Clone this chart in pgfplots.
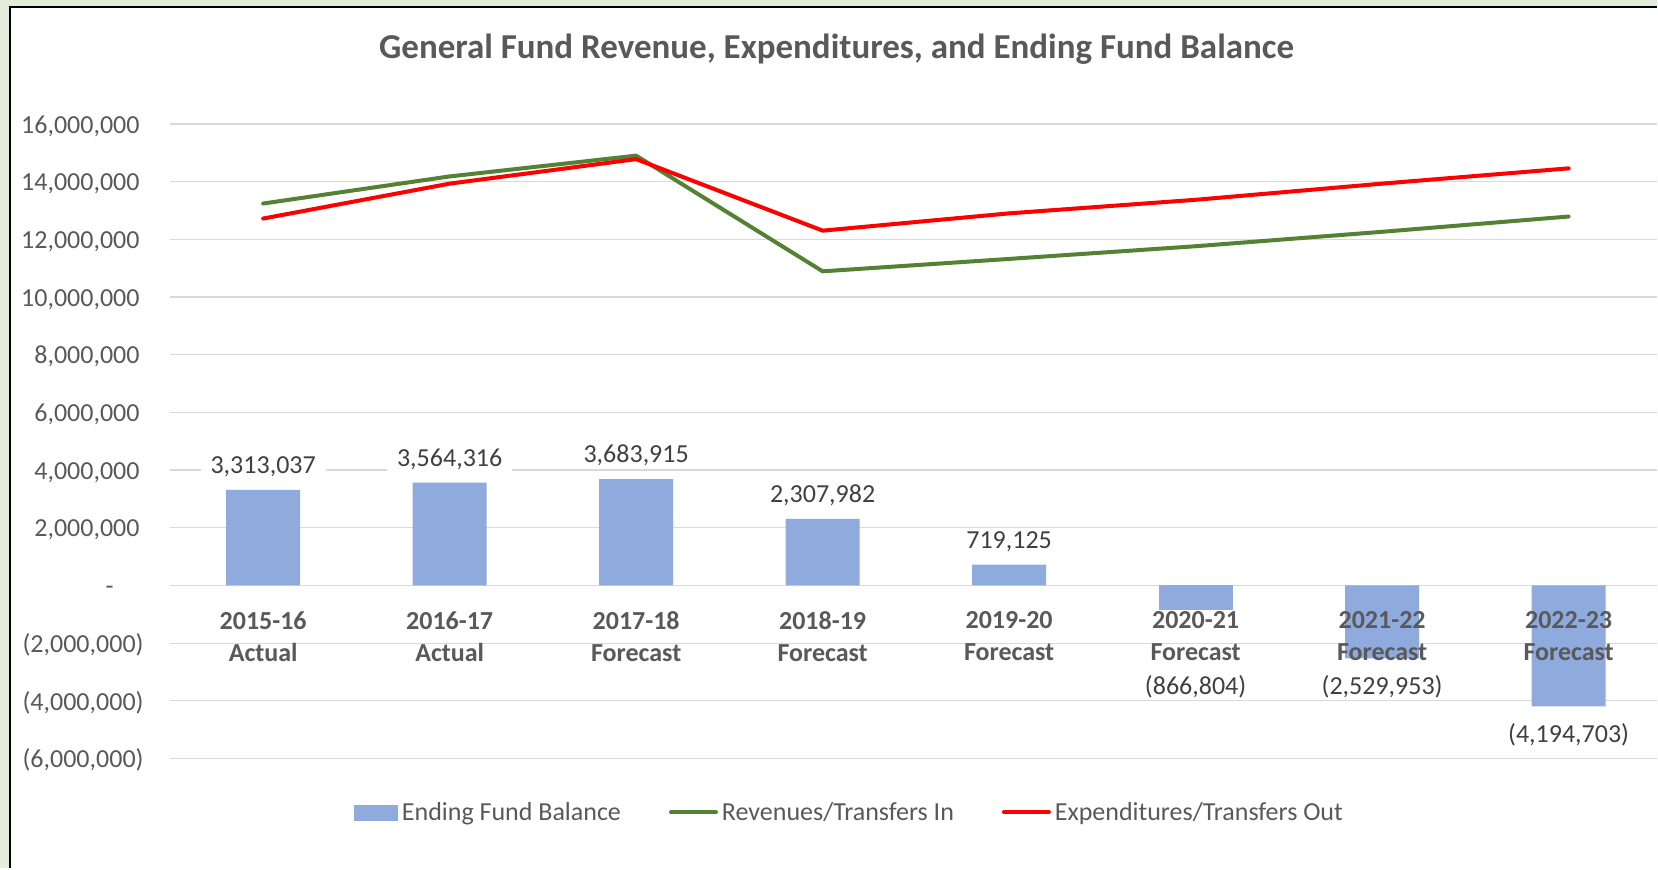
\documentclass[border=0pt]{standalone}
\usepackage{pgfplots}
\pgfplotsset{compat=1.18}
\usepackage{pgfplotstable}
\usepackage{fontspec}
\setmainfont{Carlito}
\definecolor{barblue}{RGB}{143,170,220}
\definecolor{revgreen}{RGB}{84,130,53}
\definecolor{expred}{RGB}{255,0,0}
\definecolor{gridgray}{RGB}{217,217,217}
\definecolor{txtgray}{RGB}{89,89,89}
\definecolor{lblgray}{RGB}{64,64,64}
\definecolor{bggreen}{RGB}{228,236,219}

% ending fund balance and its label text
\pgfplotstableread{
x y label
0 3313037 3,313,037
1 3564316 3,564,316
2 3683915 3,683,915
3 2307982 2,307,982
4 719125 719,125
5 -866804 (866,804)
6 -2529953 (2,529,953)
7 -4194703 (4,194,703)
}\balance

\pgfplotstableread{
x y
0 13240000
1 14180000
2 14900000
3 10890000
4 11320000
5 11760000
6 12260000
7 12790000
}\revenue

\pgfplotstableread{
x y
0 12720000
1 13930000
2 14780000
3 12300000
4 12900000
5 13370000
6 13930000
7 14460000
}\expend

\newcommand{\lblfont}{\fontsize{13}{15}\selectfont}
\newcommand{\pad}[1]{\rule{#1}{0pt}}

\pgfplotsset{balbar/.style={ybar, bar width=37pt, bar shift=0pt, fill=barblue, draw=none,
  forget plot, nodes near coords, point meta=explicit symbolic,
  nodes near coords align={center},
  every node near coord/.append style={yshift=#1, fill=white,
    inner xsep=5pt, inner ysep=1pt, font=\lblfont, text=lblgray}}}

\begin{document}
\begin{tikzpicture}
% frame of the chart (picture in px units, 1px = 0.5pt)
\begin{scope}[x=0.5pt,y=-0.5pt]
\fill[bggreen] (0,0) rectangle (1658,869);
\fill[white] (10,7) rectangle (1658,869);
\draw[black, line width=1pt] (10,869) -- (10,7) -- (1658,7);
\end{scope}

\begin{axis}[at={(85pt,-379.5pt)}, anchor=south west,
  scale only axis, width=744pt, height=317.5pt,
  xmin=-0.5, xmax=7.474, ymin=-6000000, ymax=16000000,
  clip=false,
  axis line style={draw=none}, tick style={draw=none},
  xtick=\empty,
  ytick={-6000000,-4000000,-2000000,0,2000000,4000000,6000000,8000000,10000000,12000000,14000000,16000000},
  yticklabels={{(6,000,000)},{(4,000,000)},{(2,000,000)},{-\pad{15pt}},
    {2,000,000\pad{2pt}},{4,000,000\pad{2pt}},{6,000,000\pad{2pt}},{8,000,000\pad{2pt}},
    {10,000,000\pad{2pt}},{12,000,000\pad{2pt}},{14,000,000\pad{2pt}},{16,000,000\pad{2pt}}},
  scaled y ticks=false,
  yticklabel style={anchor=base east, inner sep=0pt, xshift=-13pt, yshift=-4.6pt,
    font=\lblfont, text=txtgray},
  ymajorgrids, grid style={gridgray, line width=0.6pt},
  title={General Fund Revenue, Expenditures, and Ending Fund Balance},
  title style={at={(0.4483,1.0846)}, anchor=base, inner sep=0pt,
    font=\fontsize{17.5}{20}\selectfont\bfseries, text=txtgray},
  legend style={at={(0.4577,-0.085)}, anchor=center, draw=none, fill=none,
    font=\lblfont, text=txtgray, legend columns=-1,
    /tikz/every even column/.append style={column sep=22pt}},
  legend cell align=left]

% bars in three runs, so that each run's labels get their own offset
\addplot[balbar=11.75pt, restrict x to domain=0:4]
  table[x=x, y=y, meta=label] {\balance};
\addplot[balbar=-38pt, restrict x to domain=5:5]
  table[x=x, y=y, meta=label] {\balance};
\addplot[balbar=-14pt, restrict x to domain=6:7]
  table[x=x, y=y, meta=label] {\balance};

\addlegendimage{legend image code/.code={\fill[barblue] (0pt,-3.75pt) rectangle (21.5pt,3.75pt);}}
\addlegendentry{Ending Fund Balance}

\addplot[revgreen, line width=2pt, line join=round, line cap=round,
  legend image code/.code={\draw[revgreen, line width=2pt] (0pt,0pt) -- (22.5pt,0pt);}]
  table[x=x, y=y] {\revenue};
\addlegendentry{Revenues/Transfers In}

\addplot[expred, line width=2pt, line join=round, line cap=round,
  legend image code/.code={\draw[expred, line width=2pt] (0pt,0pt) -- (22.5pt,0pt);}]
  table[x=x, y=y] {\expend};
\addlegendentry{Expenditures/Transfers Out}
\end{axis}

% category labels sit on the zero line, over the bars
\begin{axis}[at={(85pt,-379.5pt)}, anchor=south west,
  scale only axis, width=744pt, height=317.5pt,
  xmin=-0.5, xmax=7.474, ymin=-6000000, ymax=16000000,
  axis x line*=middle, hide y axis, x axis line style={draw=none},
  tick style={draw=none},
  xtick={0,1,2,3,4,5,6,7},
  xticklabels={{2015-16\\Actual},{2016-17\\Actual},{2017-18\\Forecast},{2018-19\\Forecast},
    {2019-20\\Forecast},{2020-21\\Forecast},{2021-22\\Forecast},{2022-23\\Forecast}},
  xticklabel style={align=center, anchor=north, inner sep=0pt, yshift=-12.85pt,
    font=\fontsize{13}{16}\selectfont\bfseries, text=txtgray}]
\end{axis}
\end{tikzpicture}
\end{document}
